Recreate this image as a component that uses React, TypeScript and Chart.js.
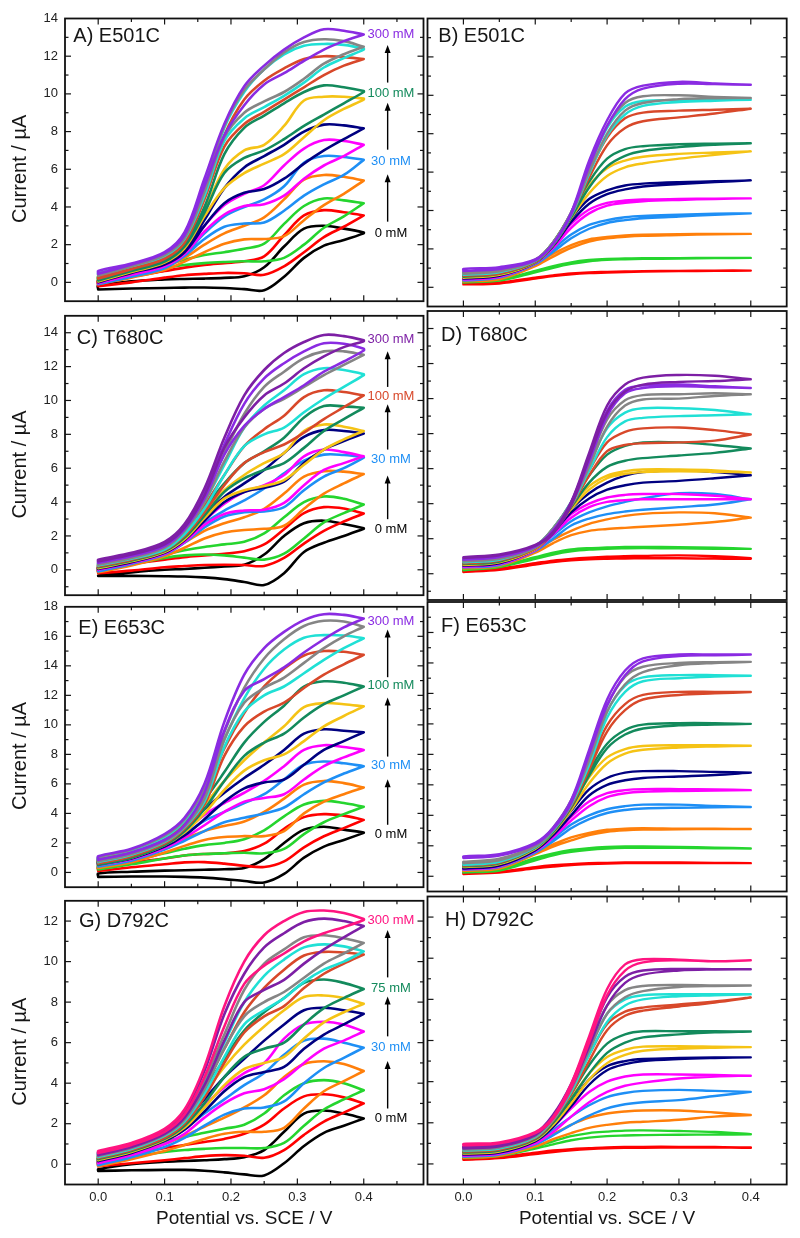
import React, { useEffect, useRef } from 'react';
import Chart from 'chart.js/auto';

// ---------------- data ----------------
// potentials (V) at which each branch is sampled
const XL = [0, 0.05, 0.1, 0.13, 0.16, 0.19, 0.22, 0.25, 0.28, 0.31, 0.34, 0.37, 0.4];
const XR = [0, 0.05, 0.1, 0.125, 0.15, 0.175, 0.2, 0.225, 0.25, 0.3, 0.35, 0.4];

const X_TICKS = [0, 0.1, 0.2, 0.3, 0.4];
const X_MINOR = [0.05, 0.15, 0.25, 0.35, 0.45];
const Y_TICKS_A = [0, 2, 4, 6, 8, 10, 12, 14];
const Y_TICKS_C = [0, 2, 4, 6, 8, 10, 12, 14];
const Y_TICKS_E = [0, 2, 4, 6, 8, 10, 12, 14, 16, 18];
const Y_TICKS_G = [0, 2, 4, 6, 8, 10, 12];

const PALETTE: Record<string, string> = {
  black: '#000000', red: '#FF0000', green: '#25D52E', orange: '#FF7F0A', blue: '#1E8FF5',
  magenta: '#FF00FF', navy: '#000080', yellow: '#F5C315', dkgreen: '#138A5C', redorange: '#D8482A',
  cyan: '#20E0D5', gray: '#858585', violet: '#8A2BE2', purple: '#7D1FA5', pink: '#FF1480',
};

// ---- Panel A (E501C, CV) ----
const seriesA = ['black', 'red', 'green', 'orange', 'blue', 'magenta', 'navy', 'yellow', 'dkgreen', 'redorange', 'cyan', 'gray', 'violet'];
const loA = [
  [-0.38, -0.33, -0.3, -0.28, -0.27, -0.3, -0.36, -0.42, 0.3, 1.3, 1.95, 2.25, 2.6],
  [-0.2, 0.0, 0.25, 0.38, 0.45, 0.5, 0.48, 0.4, 0.85, 1.6, 2.4, 2.95, 3.55],
  [0.1, 0.4, 0.75, 0.92, 1.02, 1.08, 1.12, 1.12, 1.3, 2.0, 2.9, 3.5, 4.2],
  [-0.1, 0.25, 0.65, 1.1, 1.6, 2.05, 2.28, 2.3, 2.45, 3.3, 4.1, 4.7, 5.4],
  [-0.1, 0.3, 0.75, 1.4, 2.3, 2.95, 3.12, 3.18, 3.8, 4.6, 5.2, 5.7, 6.5],
  [-0.05, 0.4, 0.85, 1.5, 2.7, 3.6, 4.05, 4.15, 4.6, 5.5, 6.2, 6.7, 7.3],
  [0.0, 0.5, 0.95, 1.6, 3.0, 4.2, 4.75, 4.95, 5.5, 6.3, 7.0, 7.6, 8.17],
  [0.05, 0.55, 1.05, 1.8, 3.5, 5.0, 5.8, 6.3, 6.8, 7.7, 8.6, 9.2, 9.7],
  [0.1, 0.6, 1.1, 1.9, 3.7, 5.8, 6.6, 7.0, 7.6, 8.3, 8.9, 9.5, 10.1],
  [0.2, 0.7, 1.25, 2.1, 4.4, 7.2, 8.4, 9.05, 9.7, 10.35, 11.0, 11.5, 11.85],
  [0.4, 0.85, 1.4, 2.3, 4.6, 7.5, 8.7, 9.3, 9.9, 10.6, 11.4, 11.9, 12.35],
  [0.35, 0.85, 1.45, 2.35, 4.8, 7.7, 9.0, 9.6, 10.1, 10.8, 11.6, 12.1, 12.5],
  [0.45, 0.95, 1.55, 2.5, 5.1, 7.8, 9.4, 10.5, 11.1, 11.75, 12.35, 12.8, 13.15],
];
const hiA = [
  [-0.17, 0.05, 0.15, 0.18, 0.2, 0.24, 0.32, 0.8, 1.9, 2.85, 3.0, 2.85, 2.65],
  [0.1, 0.3, 0.6, 0.78, 0.92, 1.02, 1.12, 1.38, 2.5, 3.55, 3.83, 3.72, 3.55],
  [0.3, 0.6, 0.95, 1.2, 1.45, 1.6, 1.78, 2.05, 3.1, 4.05, 4.45, 4.35, 4.2],
  [0.0, 0.35, 0.8, 1.3, 2.0, 2.6, 3.0, 3.45, 4.4, 5.45, 5.7, 5.6, 5.4],
  [-0.05, 0.35, 0.85, 1.5, 2.6, 3.5, 4.0, 4.4, 5.1, 6.35, 6.7, 6.65, 6.5],
  [0.0, 0.45, 0.95, 1.6, 3.0, 4.1, 4.7, 5.15, 6.2, 7.1, 7.55, 7.5, 7.3],
  [0.1, 0.55, 1.05, 1.7, 3.3, 5.0, 6.1, 6.7, 7.3, 8.0, 8.37, 8.33, 8.17],
  [0.15, 0.6, 1.15, 1.9, 3.8, 6.0, 7.0, 7.3, 8.3, 9.65, 9.85, 9.85, 9.75],
  [0.2, 0.65, 1.2, 2.0, 4.0, 6.8, 8.2, 8.85, 9.5, 10.1, 10.45, 10.35, 10.15],
  [0.3, 0.75, 1.3, 2.2, 4.6, 7.8, 9.7, 10.7, 11.35, 11.85, 12.0, 11.95, 11.85],
  [0.5, 0.9, 1.5, 2.4, 4.9, 8.2, 10.1, 11.3, 12.1, 12.55, 12.65, 12.6, 12.4],
  [0.45, 0.9, 1.5, 2.45, 5.1, 8.3, 10.2, 11.3, 12.2, 12.75, 12.9, 12.8, 12.5],
  [0.6, 1.0, 1.6, 2.65, 5.5, 8.4, 10.4, 11.5, 12.35, 13.0, 13.43, 13.35, 13.15],
];

// ---- Panel B (E501C, steady state) ----
const seriesB = ['red', 'green', 'orange', 'blue', 'magenta', 'navy', 'yellow', 'dkgreen', 'redorange', 'cyan', 'gray', 'violet'];
const loB = [
  [0.15, 0.2, 0.45, 0.58, 0.68, 0.74, 0.77, 0.8, 0.82, 0.84, 0.86, 0.87],
  [0.25, 0.35, 0.78, 1.02, 1.22, 1.36, 1.43, 1.46, 1.48, 1.5, 1.52, 1.53],
  [0.3, 0.42, 1.1, 1.6, 2.05, 2.38, 2.55, 2.63, 2.68, 2.72, 2.76, 2.78],
  [0.35, 0.5, 1.2, 1.85, 2.55, 3.05, 3.35, 3.5, 3.6, 3.68, 3.78, 3.85],
  [0.4, 0.55, 1.25, 2.05, 3.1, 3.85, 4.25, 4.4, 4.48, 4.55, 4.6, 4.63],
  [0.45, 0.6, 1.28, 2.15, 3.4, 4.35, 4.85, 5.1, 5.25, 5.38, 5.48, 5.57],
  [0.5, 0.65, 1.3, 2.2, 3.6, 4.9, 5.8, 6.25, 6.45, 6.7, 6.9, 7.08],
  [0.55, 0.7, 1.32, 2.2, 3.65, 5.2, 6.3, 6.85, 7.1, 7.3, 7.42, 7.5],
  [0.6, 0.72, 1.35, 2.25, 3.75, 5.7, 7.4, 8.3, 8.65, 8.85, 9.05, 9.3],
  [0.65, 0.78, 1.37, 2.25, 3.75, 5.9, 7.9, 9.0, 9.45, 9.65, 9.72, 9.77],
  [0.7, 0.83, 1.4, 2.28, 3.8, 6.0, 8.0, 9.2, 9.6, 9.8, 9.85, 9.86],
  [0.85, 0.95, 1.4, 2.25, 3.8, 6.3, 8.4, 9.8, 10.35, 10.6, 10.58, 10.55],
];
const hiB = [
  [0.2, 0.25, 0.5, 0.62, 0.72, 0.78, 0.8, 0.82, 0.84, 0.85, 0.87, 0.87],
  [0.3, 0.4, 0.85, 1.1, 1.3, 1.42, 1.48, 1.5, 1.52, 1.52, 1.53, 1.53],
  [0.35, 0.48, 1.2, 1.75, 2.2, 2.5, 2.62, 2.7, 2.74, 2.77, 2.78, 2.78],
  [0.4, 0.55, 1.3, 2.0, 2.75, 3.25, 3.5, 3.65, 3.72, 3.78, 3.83, 3.85],
  [0.45, 0.6, 1.35, 2.2, 3.3, 4.05, 4.4, 4.52, 4.57, 4.6, 4.62, 4.63],
  [0.5, 0.65, 1.35, 2.3, 3.6, 4.6, 5.05, 5.3, 5.4, 5.48, 5.52, 5.57],
  [0.6, 0.72, 1.4, 2.35, 3.8, 5.3, 6.2, 6.6, 6.8, 6.95, 7.02, 7.08],
  [0.65, 0.78, 1.4, 2.35, 3.85, 5.5, 6.7, 7.2, 7.35, 7.45, 7.48, 7.5],
  [0.7, 0.8, 1.42, 2.35, 3.9, 6.0, 7.8, 8.8, 9.1, 9.2, 9.25, 9.3],
  [0.75, 0.85, 1.42, 2.35, 3.9, 6.2, 8.3, 9.4, 9.7, 9.75, 9.76, 9.77],
  [0.8, 0.9, 1.45, 2.35, 3.9, 6.3, 8.4, 9.6, 9.95, 10.0, 9.92, 9.86],
  [0.96, 1.05, 1.45, 2.3, 3.9, 6.6, 8.7, 10.1, 10.5, 10.7, 10.62, 10.55],
];

// ---- Panel C (T680C, CV) ----
const seriesC = ['black', 'red', 'green', 'orange', 'blue', 'magenta', 'navy', 'yellow', 'dkgreen', 'redorange', 'cyan', 'gray', 'violet', 'purple'];
const loC = [
  [-0.36, -0.36, -0.38, -0.4, -0.45, -0.55, -0.72, -0.9, -0.2, 1.05, 1.6, 2.0, 2.42],
  [-0.2, -0.05, 0.15, 0.22, 0.28, 0.3, 0.28, 0.23, 0.7, 1.55, 2.3, 2.85, 3.32],
  [-0.1, 0.3, 0.7, 0.85, 0.9, 0.85, 0.72, 0.6, 0.95, 1.85, 2.8, 3.35, 3.85],
  [-0.15, 0.25, 0.8, 1.3, 1.85, 2.2, 2.35, 2.42, 2.6, 3.6, 4.5, 5.1, 5.65],
  [-0.1, 0.35, 0.9, 1.6, 2.5, 3.15, 3.4, 3.45, 3.7, 4.7, 5.5, 6.0, 6.62],
  [0.0, 0.4, 0.95, 1.65, 2.65, 3.3, 3.5, 3.55, 3.95, 5.0, 5.9, 6.3, 6.7],
  [0.05, 0.45, 1.0, 1.75, 2.9, 4.0, 4.6, 4.85, 5.2, 6.3, 7.1, 7.6, 8.05],
  [0.1, 0.5, 1.05, 1.8, 3.05, 4.2, 4.7, 4.95, 5.3, 6.2, 7.1, 7.7, 8.2],
  [0.15, 0.55, 1.1, 1.9, 3.2, 4.6, 5.4, 5.9, 6.3, 7.2, 8.2, 8.9, 9.57],
  [0.2, 0.6, 1.15, 2.0, 3.4, 5.0, 6.3, 6.95, 7.4, 8.1, 8.9, 9.6, 10.3],
  [0.25, 0.65, 1.2, 2.1, 3.6, 5.6, 7.3, 8.0, 8.4, 9.3, 10.1, 10.8, 11.5],
  [0.3, 0.7, 1.3, 2.3, 4.0, 6.4, 8.4, 9.5, 10.1, 10.8, 11.5, 12.1, 12.7],
  [0.4, 0.8, 1.4, 2.4, 4.2, 6.8, 8.5, 9.5, 10.2, 10.9, 11.7, 12.3, 12.95],
  [0.5, 0.9, 1.5, 2.5, 4.4, 7.2, 9.0, 10.3, 11.0, 11.9, 12.6, 13.15, 13.5],
];
const hiC = [
  [-0.34, -0.15, 0.0, 0.05, 0.12, 0.2, 0.3, 0.9, 2.0, 2.75, 2.9, 2.7, 2.45],
  [0.13, 0.35, 0.6, 0.75, 0.85, 0.95, 1.1, 1.5, 2.4, 3.35, 3.7, 3.62, 3.32],
  [0.1, 0.45, 0.9, 1.15, 1.35, 1.5, 1.65, 2.15, 3.1, 4.0, 4.33, 4.2, 3.85],
  [0.05, 0.45, 1.0, 1.6, 2.3, 2.75, 3.1, 3.6, 4.5, 5.5, 5.82, 5.8, 5.65],
  [0.05, 0.45, 1.05, 1.75, 2.75, 3.5, 4.1, 4.8, 5.7, 6.45, 6.8, 6.78, 6.65],
  [0.1, 0.5, 1.1, 1.8, 2.9, 3.9, 4.6, 5.0, 5.6, 6.7, 7.1, 6.95, 6.7],
  [0.15, 0.55, 1.15, 1.9, 3.2, 4.3, 5.1, 5.9, 6.9, 7.85, 8.25, 8.2, 8.05],
  [0.2, 0.6, 1.2, 2.0, 3.4, 4.7, 5.6, 6.3, 6.9, 8.2, 8.58, 8.45, 8.2],
  [0.25, 0.65, 1.25, 2.1, 3.6, 5.1, 6.3, 7.0, 7.8, 9.0, 9.67, 9.65, 9.57],
  [0.3, 0.7, 1.3, 2.2, 3.8, 5.6, 7.3, 8.3, 9.1, 10.2, 10.6, 10.5, 10.3],
  [0.35, 0.75, 1.35, 2.3, 4.0, 6.2, 8.4, 9.7, 10.6, 11.55, 11.9, 11.8, 11.55],
  [0.4, 0.8, 1.45, 2.45, 4.3, 6.9, 9.2, 10.8, 11.7, 12.5, 12.9, 12.9, 12.7],
  [0.5, 0.9, 1.55, 2.6, 4.6, 7.4, 9.8, 11.3, 12.2, 12.9, 13.38, 13.35, 13.05],
  [0.6, 1.0, 1.65, 2.7, 4.8, 7.8, 10.3, 11.8, 12.8, 13.45, 13.87, 13.8, 13.55],
];

// ---- Panel D (T680C, steady state) ----
const seriesD = ['red', 'green', 'orange', 'blue', 'magenta', 'navy', 'yellow', 'dkgreen', 'redorange', 'cyan', 'gray', 'violet', 'purple'];
const loD = [
  [0.1, 0.22, 0.52, 0.66, 0.76, 0.82, 0.85, 0.87, 0.88, 0.88, 0.86, 0.85],
  [0.2, 0.38, 0.85, 1.1, 1.28, 1.38, 1.43, 1.45, 1.46, 1.45, 1.43, 1.42],
  [0.3, 0.45, 1.2, 1.75, 2.2, 2.45, 2.55, 2.62, 2.68, 2.8, 2.95, 3.2],
  [0.35, 0.5, 1.3, 2.0, 2.75, 3.15, 3.4, 3.55, 3.65, 3.8, 3.95, 4.25],
  [0.4, 0.55, 1.35, 2.25, 3.2, 3.8, 4.1, 4.2, 4.25, 4.25, 4.25, 4.25],
  [0.45, 0.6, 1.4, 2.35, 3.5, 4.3, 4.8, 5.05, 5.2, 5.3, 5.45, 5.62],
  [0.5, 0.65, 1.4, 2.4, 3.7, 4.8, 5.45, 5.7, 5.8, 5.85, 5.82, 5.78],
  [0.55, 0.7, 1.45, 2.45, 3.8, 5.2, 6.1, 6.45, 6.6, 6.75, 6.9, 7.15],
  [0.6, 0.75, 1.45, 2.45, 3.85, 5.6, 7.0, 7.35, 7.45, 7.5, 7.6, 7.95],
  [0.65, 0.8, 1.5, 2.5, 3.9, 5.9, 7.8, 8.7, 8.9, 9.0, 9.05, 9.1],
  [0.7, 0.85, 1.5, 2.5, 3.95, 6.1, 8.4, 9.6, 9.95, 10.0, 10.15, 10.25],
  [0.8, 0.95, 1.55, 2.4, 3.95, 6.4, 9.0, 10.3, 10.6, 10.7, 10.65, 10.6],
  [0.9, 1.05, 1.6, 2.3, 3.9, 6.6, 9.2, 10.4, 10.8, 10.95, 11.0, 11.1],
];
const hiD = [
  [0.2, 0.3, 0.6, 0.75, 0.85, 0.92, 0.97, 1.0, 1.02, 1.05, 1.0, 0.88],
  [0.3, 0.45, 0.95, 1.2, 1.38, 1.46, 1.5, 1.53, 1.53, 1.52, 1.48, 1.42],
  [0.4, 0.55, 1.35, 1.95, 2.45, 2.85, 3.1, 3.3, 3.42, 3.5, 3.45, 3.2],
  [0.45, 0.6, 1.4, 2.2, 3.0, 3.5, 3.85, 4.1, 4.3, 4.6, 4.55, 4.25],
  [0.5, 0.65, 1.45, 2.4, 3.4, 4.0, 4.35, 4.5, 4.55, 4.55, 4.45, 4.25],
  [0.55, 0.7, 1.5, 2.5, 3.7, 4.6, 5.2, 5.6, 5.8, 5.9, 5.8, 5.62],
  [0.6, 0.75, 1.5, 2.55, 3.9, 5.0, 5.6, 5.85, 5.95, 5.95, 5.9, 5.78],
  [0.65, 0.8, 1.55, 2.6, 4.0, 5.6, 6.8, 7.3, 7.5, 7.5, 7.35, 7.15],
  [0.7, 0.85, 1.55, 2.6, 4.05, 5.9, 7.5, 8.1, 8.3, 8.35, 8.2, 7.95],
  [0.75, 0.9, 1.6, 2.6, 4.1, 6.2, 8.3, 9.2, 9.45, 9.45, 9.35, 9.1],
  [0.8, 0.95, 1.6, 2.6, 4.1, 6.4, 8.8, 9.9, 10.2, 10.25, 10.3, 10.25],
  [0.85, 1.0, 1.6, 2.5, 4.1, 6.7, 9.3, 10.5, 10.75, 10.8, 10.7, 10.6],
  [0.95, 1.1, 1.65, 2.4, 4.1, 6.9, 9.6, 10.8, 11.2, 11.35, 11.3, 11.1],
];

// ---- Panel E (E653C, CV) ----
const seriesE = ['black', 'red', 'green', 'orange', 'blue', 'magenta', 'navy', 'yellow', 'dkgreen', 'redorange', 'cyan', 'gray', 'violet'];
const loE = [
  [-0.3, -0.28, -0.28, -0.3, -0.35, -0.45, -0.58, -0.68, -0.1, 1.0, 1.75, 2.2, 2.68],
  [0.1, 0.35, 0.55, 0.68, 0.7, 0.6, 0.45, 0.37, 0.75, 1.7, 2.45, 3.0, 3.56],
  [0.2, 0.55, 0.95, 1.15, 1.25, 1.3, 1.33, 1.3, 1.6, 2.6, 3.4, 3.95, 4.45],
  [0.3, 0.7, 1.35, 1.8, 2.2, 2.4, 2.46, 2.46, 2.8, 4.0, 4.8, 5.3, 5.76],
  [0.4, 0.8, 1.55, 2.15, 2.8, 3.4, 3.7, 4.0, 4.4, 5.3, 6.1, 6.7, 7.2],
  [0.5, 0.9, 1.65, 2.35, 3.2, 4.1, 4.8, 5.05, 5.3, 6.3, 7.2, 7.8, 8.3],
  [0.55, 0.95, 1.75, 2.5, 3.6, 4.8, 5.7, 6.1, 6.3, 7.3, 8.3, 8.9, 9.5],
  [0.6, 1.0, 1.85, 2.7, 4.0, 5.6, 6.9, 7.6, 8.0, 8.9, 9.9, 10.6, 11.25],
  [0.5, 1.0, 1.85, 2.8, 4.3, 6.2, 7.9, 8.8, 9.4, 10.5, 11.4, 12.0, 12.6],
  [0.6, 1.1, 1.95, 2.95, 4.6, 7.9, 9.9, 10.9, 11.5, 12.5, 13.4, 14.1, 14.75],
  [0.7, 1.2, 2.05, 3.05, 4.8, 8.5, 10.9, 12.0, 12.6, 13.5, 14.4, 15.2, 15.87],
  [0.75, 1.25, 2.1, 3.1, 5.0, 9.0, 11.5, 12.5, 13.2, 14.2, 15.2, 16.0, 16.65],
  [0.85, 1.35, 2.2, 3.2, 5.4, 9.6, 12.3, 13.1, 13.9, 14.9, 15.8, 16.6, 17.2],
];
const hiE = [
  [-0.07, 0.05, 0.12, 0.15, 0.18, 0.22, 0.3, 0.9, 2.0, 2.9, 3.1, 2.9, 2.7],
  [0.35, 0.65, 0.95, 1.15, 1.25, 1.3, 1.45, 1.95, 2.95, 3.75, 3.95, 3.85, 3.56],
  [0.45, 0.8, 1.3, 1.6, 1.85, 2.0, 2.25, 2.85, 3.8, 4.6, 4.85, 4.7, 4.45],
  [0.6, 1.0, 1.75, 2.3, 2.8, 3.15, 3.45, 4.1, 5.0, 5.95, 6.2, 6.05, 5.76],
  [0.7, 1.1, 1.9, 2.6, 3.5, 4.1, 4.7, 5.3, 6.3, 7.3, 7.52, 7.4, 7.2],
  [0.8, 1.2, 2.0, 2.8, 3.9, 4.7, 5.4, 6.2, 7.2, 8.3, 8.62, 8.5, 8.3],
  [0.85, 1.3, 2.1, 3.0, 4.3, 5.4, 6.4, 7.3, 8.3, 9.4, 9.7, 9.6, 9.5],
  [0.9, 1.35, 2.2, 3.2, 4.6, 6.2, 7.6, 8.8, 9.9, 11.2, 11.47, 11.4, 11.25],
  [0.8, 1.3, 2.2, 3.3, 4.9, 6.8, 8.8, 10.2, 11.3, 12.6, 12.95, 12.85, 12.6],
  [0.9, 1.4, 2.3, 3.4, 5.3, 8.4, 10.8, 12.6, 13.8, 14.7, 15.0, 14.95, 14.75],
  [1.0, 1.5, 2.4, 3.5, 5.5, 9.0, 11.8, 13.8, 15.1, 15.9, 16.08, 16.05, 15.87],
  [1.0, 1.55, 2.5, 3.6, 5.7, 9.5, 12.5, 14.5, 15.8, 16.7, 17.05, 17.0, 16.65],
  [1.1, 1.6, 2.6, 3.7, 6.0, 10.2, 13.4, 15.2, 16.3, 17.1, 17.5, 17.45, 17.2],
];

// ---- Panel F (E653C, steady state) ----
const seriesF = ['red', 'green', 'orange', 'blue', 'magenta', 'navy', 'yellow', 'dkgreen', 'redorange', 'cyan', 'gray', 'violet'];
const loF = [
  [0.15, 0.25, 0.52, 0.64, 0.74, 0.8, 0.84, 0.86, 0.87, 0.87, 0.86, 0.86],
  [0.25, 0.38, 1.05, 1.38, 1.6, 1.74, 1.82, 1.86, 1.87, 1.86, 1.84, 1.82],
  [0.35, 0.5, 1.45, 1.95, 2.35, 2.7, 2.92, 3.02, 3.06, 3.08, 3.1, 3.1],
  [0.42, 0.6, 1.55, 2.3, 3.15, 3.75, 4.15, 4.35, 4.45, 4.5, 4.52, 4.55],
  [0.45, 0.65, 1.65, 2.55, 3.65, 4.6, 5.2, 5.45, 5.55, 5.6, 5.63, 5.65],
  [0.5, 0.7, 1.7, 2.7, 4.0, 5.3, 6.0, 6.3, 6.45, 6.55, 6.65, 6.8],
  [0.6, 0.8, 1.8, 2.85, 4.35, 6.1, 7.4, 8.05, 8.3, 8.45, 8.52, 8.57],
  [0.65, 0.85, 1.85, 2.9, 4.5, 6.6, 8.4, 9.3, 9.7, 9.9, 9.95, 10.0],
  [0.7, 0.9, 1.9, 3.0, 4.6, 7.0, 9.5, 10.9, 11.6, 11.9, 12.0, 12.09],
  [0.75, 0.95, 1.9, 3.0, 4.7, 7.3, 10.4, 12.1, 12.8, 13.0, 13.1, 13.16],
  [0.85, 1.05, 1.95, 3.05, 4.8, 7.6, 10.8, 12.6, 13.4, 13.85, 14.0, 14.07],
  [1.2, 1.35, 2.1, 3.1, 4.8, 8.0, 11.2, 13.2, 14.1, 14.45, 14.5, 14.55],
];
const hiF = [
  [0.2, 0.3, 0.6, 0.72, 0.8, 0.85, 0.88, 0.9, 0.9, 0.9, 0.88, 0.86],
  [0.3, 0.45, 1.2, 1.5, 1.72, 1.85, 1.92, 1.95, 1.95, 1.93, 1.88, 1.82],
  [0.45, 0.6, 1.6, 2.1, 2.55, 2.85, 3.05, 3.12, 3.15, 3.12, 3.12, 3.1],
  [0.5, 0.7, 1.7, 2.5, 3.4, 4.0, 4.4, 4.6, 4.7, 4.7, 4.62, 4.55],
  [0.55, 0.75, 1.8, 2.75, 3.9, 4.9, 5.45, 5.65, 5.72, 5.72, 5.7, 5.65],
  [0.6, 0.8, 1.85, 2.9, 4.3, 5.7, 6.45, 6.8, 6.9, 6.9, 6.85, 6.8],
  [0.7, 0.9, 1.9, 3.0, 4.6, 6.5, 7.8, 8.35, 8.55, 8.6, 8.6, 8.57],
  [0.75, 0.95, 1.95, 3.05, 4.7, 6.9, 8.7, 9.6, 9.95, 10.05, 10.05, 10.0],
  [0.8, 1.0, 2.0, 3.1, 4.8, 7.3, 9.9, 11.3, 11.9, 12.1, 12.1, 12.09],
  [0.85, 1.05, 2.0, 3.15, 4.9, 7.6, 10.8, 12.5, 13.05, 13.2, 13.2, 13.16],
  [0.95, 1.15, 2.05, 3.2, 5.0, 7.9, 11.2, 13.1, 13.75, 14.0, 14.05, 14.07],
  [1.3, 1.45, 2.2, 3.2, 5.0, 8.3, 11.6, 13.5, 14.3, 14.55, 14.55, 14.55],
];

// ---- Panel G (D792C, CV) ----
const seriesG = ['black', 'red', 'green', 'orange', 'blue', 'magenta', 'navy', 'yellow', 'dkgreen', 'redorange', 'cyan', 'gray', 'purple', 'pink'];
const loG = [
  [-0.33, -0.3, -0.28, -0.28, -0.32, -0.4, -0.5, -0.55, 0.05, 0.9, 1.55, 1.9, 2.26],
  [-0.1, 0.05, 0.2, 0.3, 0.4, 0.45, 0.42, 0.32, 0.7, 1.45, 2.1, 2.55, 3.0],
  [0.05, 0.35, 0.6, 0.7, 0.76, 0.8, 0.8, 0.8, 1.05, 1.9, 2.7, 3.2, 3.65],
  [-0.1, 0.25, 0.65, 0.95, 1.25, 1.5, 1.6, 1.6, 1.8, 2.75, 3.6, 4.1, 4.6],
  [-0.05, 0.35, 0.85, 1.3, 1.9, 2.45, 2.75, 2.8, 3.1, 4.0, 4.75, 5.25, 5.75],
  [0.05, 0.45, 1.0, 1.5, 2.3, 3.0, 3.5, 3.7, 4.2, 5.0, 5.7, 6.1, 6.55],
  [0.15, 0.55, 1.15, 1.7, 2.6, 3.6, 4.3, 4.55, 4.8, 5.7, 6.4, 6.9, 7.42],
  [0.2, 0.6, 1.2, 1.8, 2.8, 3.9, 4.7, 5.0, 5.3, 6.2, 7.0, 7.5, 7.92],
  [0.25, 0.65, 1.25, 1.9, 3.0, 4.3, 5.3, 5.7, 6.0, 6.9, 7.7, 8.2, 8.65],
  [0.3, 0.7, 1.3, 2.0, 3.3, 5.0, 6.5, 7.3, 7.8, 8.7, 9.4, 9.9, 10.35],
  [0.35, 0.75, 1.4, 2.1, 3.5, 5.3, 6.9, 7.6, 8.2, 9.0, 9.6, 10.0, 10.5],
  [0.4, 0.8, 1.45, 2.2, 3.7, 5.7, 7.3, 8.0, 8.5, 9.2, 9.9, 10.4, 10.92],
  [0.45, 0.85, 1.5, 2.3, 3.9, 6.1, 8.0, 8.6, 9.1, 9.9, 10.6, 11.2, 11.75],
  [0.55, 0.95, 1.6, 2.45, 4.3, 6.8, 8.9, 9.8, 10.4, 11.0, 11.4, 11.7, 12.05],
];
const hiG = [
  [-0.25, 0.0, 0.12, 0.16, 0.2, 0.25, 0.35, 0.7, 1.6, 2.5, 2.65, 2.5, 2.26],
  [0.15, 0.45, 0.8, 0.95, 1.1, 1.25, 1.5, 1.95, 2.75, 3.35, 3.45, 3.3, 3.0],
  [0.3, 0.65, 1.1, 1.35, 1.55, 1.75, 1.95, 2.5, 3.4, 4.0, 4.15, 4.0, 3.65],
  [0.0, 0.45, 1.0, 1.4, 1.85, 2.3, 2.8, 3.4, 4.3, 4.95, 5.08, 4.95, 4.6],
  [0.1, 0.55, 1.2, 1.75, 2.5, 3.2, 3.9, 4.5, 5.4, 6.1, 6.2, 6.0, 5.75],
  [0.2, 0.6, 1.3, 1.95, 2.9, 3.8, 4.5, 5.0, 6.2, 6.9, 7.03, 6.9, 6.55],
  [0.3, 0.7, 1.4, 2.1, 3.2, 4.3, 5.2, 6.1, 6.9, 7.6, 7.72, 7.6, 7.42],
  [0.35, 0.75, 1.45, 2.2, 3.5, 4.8, 5.9, 6.8, 7.6, 8.25, 8.33, 8.2, 7.92],
  [0.4, 0.8, 1.5, 2.3, 3.7, 5.2, 6.6, 7.5, 8.2, 8.95, 9.12, 8.95, 8.65],
  [0.45, 0.85, 1.55, 2.4, 3.9, 5.7, 7.5, 8.7, 9.6, 10.3, 10.48, 10.45, 10.35],
  [0.5, 0.9, 1.6, 2.45, 4.0, 6.0, 8.0, 9.3, 10.1, 10.7, 10.85, 10.75, 10.5],
  [0.55, 0.95, 1.65, 2.5, 4.2, 6.4, 8.6, 9.9, 10.6, 11.2, 11.3, 11.15, 10.92],
  [0.6, 1.0, 1.7, 2.6, 4.6, 7.4, 9.4, 10.7, 11.4, 11.95, 12.12, 12.0, 11.75],
  [0.65, 1.05, 1.75, 2.7, 4.8, 7.8, 10.0, 11.3, 12.0, 12.45, 12.52, 12.4, 12.1],
];

// ---- Panel H (D792C, steady state) ----
const seriesH = ['red', 'green', 'orange', 'blue', 'magenta', 'navy', 'yellow', 'dkgreen', 'redorange', 'cyan', 'gray', 'purple', 'pink'];
const loH = [
  [0.2, 0.28, 0.48, 0.58, 0.66, 0.72, 0.76, 0.78, 0.79, 0.8, 0.8, 0.78],
  [0.28, 0.38, 0.75, 0.95, 1.15, 1.28, 1.35, 1.38, 1.4, 1.42, 1.43, 1.44],
  [0.3, 0.4, 0.85, 1.2, 1.5, 1.75, 1.9, 2.0, 2.05, 2.15, 2.3, 2.38],
  [0.35, 0.45, 0.95, 1.4, 1.9, 2.35, 2.7, 2.9, 3.0, 3.1, 3.3, 3.5],
  [0.4, 0.5, 1.0, 1.55, 2.3, 3.0, 3.5, 3.8, 3.95, 4.15, 4.25, 4.29],
  [0.45, 0.55, 1.1, 1.8, 2.8, 3.85, 4.55, 4.85, 5.0, 5.1, 5.15, 5.18],
  [0.5, 0.6, 1.15, 1.9, 2.95, 4.1, 4.9, 5.3, 5.5, 5.6, 5.65, 5.68],
  [0.55, 0.65, 1.2, 2.0, 3.15, 4.4, 5.4, 5.9, 6.15, 6.3, 6.4, 6.44],
  [0.6, 0.7, 1.25, 2.1, 3.4, 5.0, 6.5, 7.2, 7.45, 7.65, 7.85, 8.09],
  [0.65, 0.75, 1.3, 2.15, 3.5, 5.3, 6.9, 7.7, 8.0, 8.15, 8.2, 8.25],
  [0.7, 0.8, 1.35, 2.2, 3.6, 5.5, 7.3, 8.1, 8.4, 8.6, 8.65, 8.67],
  [0.75, 0.85, 1.4, 2.25, 3.7, 5.7, 7.7, 8.8, 9.2, 9.4, 9.45, 9.46],
  [0.9, 1.0, 1.5, 2.2, 3.7, 5.9, 8.2, 9.4, 9.8, 9.9, 9.85, 9.9],
];
const hiH = [
  [0.3, 0.35, 0.55, 0.65, 0.72, 0.76, 0.8, 0.82, 0.83, 0.83, 0.82, 0.8],
  [0.35, 0.45, 0.85, 1.1, 1.35, 1.5, 1.57, 1.62, 1.63, 1.6, 1.55, 1.45],
  [0.4, 0.5, 1.0, 1.45, 1.9, 2.25, 2.45, 2.55, 2.6, 2.6, 2.5, 2.38],
  [0.45, 0.55, 1.1, 1.65, 2.3, 2.85, 3.25, 3.45, 3.55, 3.6, 3.55, 3.5],
  [0.5, 0.6, 1.15, 1.8, 2.7, 3.5, 4.0, 4.25, 4.35, 4.35, 4.32, 4.29],
  [0.55, 0.65, 1.2, 1.95, 3.0, 4.1, 4.75, 5.0, 5.1, 5.15, 5.17, 5.18],
  [0.6, 0.7, 1.25, 2.05, 3.2, 4.4, 5.2, 5.55, 5.7, 5.72, 5.7, 5.68],
  [0.65, 0.75, 1.3, 2.15, 3.4, 4.8, 5.85, 6.3, 6.45, 6.45, 6.45, 6.44],
  [0.7, 0.8, 1.35, 2.25, 3.6, 5.3, 6.8, 7.4, 7.6, 7.75, 7.9, 8.09],
  [0.75, 0.85, 1.4, 2.3, 3.7, 5.6, 7.3, 8.0, 8.2, 8.25, 8.25, 8.25],
  [0.8, 0.9, 1.45, 2.35, 3.8, 5.8, 7.7, 8.45, 8.65, 8.7, 8.68, 8.67],
  [0.85, 0.95, 1.5, 2.4, 3.9, 6.0, 8.1, 9.1, 9.4, 9.48, 9.47, 9.46],
  [0.97, 1.05, 1.55, 2.3, 3.9, 6.2, 8.5, 9.7, 9.95, 9.93, 9.85, 9.9],
];

// concentration labels (text, current value, colour key) and arrows (from, to) on the CV panels
const notesA = [['300 mM', 13.13, 'violet'], ['100 mM', 10.03, 'dkgreen'], ['30 mM', 6.43, 'blue'], ['0 mM', 2.61, 'black']];
const arrowsA = [[3.22, 5.74], [7.04, 9.53], [10.6, 12.6]];
const notesC = [['300 mM', 13.58, 'purple'], ['100 mM', 10.24, 'redorange'], ['30 mM', 6.52, 'blue'], ['0 mM', 2.38, 'black']];
const arrowsC = [[2.99, 5.57], [7.1, 9.77], [10.8, 12.9]];
const notesE = [['300 mM', 17.03, 'violet'], ['100 mM', 12.64, 'dkgreen'], ['30 mM', 7.23, 'blue'], ['0 mM', 2.57, 'black']];
const arrowsE = [[3.23, 6.31], [7.85, 11.85], [13.23, 16.46]];
const notesG = [['300 mM', 12.02, 'pink'], ['75 mM', 8.68, 'dkgreen'], ['30 mM', 5.74, 'blue'], ['0 mM', 2.26, 'black']];
const arrowsG = [[2.75, 5.09], [6.31, 8.28], [9.22, 11.56]];

// ---------------- layout / style ----------------
const FONT = 'Arial, "Liberation Sans", Helvetica, sans-serif';
const COLS = [
  { cx: 0, cw: 430, padL: 0, padR: 6.5, yW: 65, xMax: 0.49 },
  { cx: 420, cw: 380, padL: 7.5, padR: 13.3, yW: 0, xMax: 0.45 },
];
const ROWS = [
  { cy: 0, ch: 316, padT: 18.5, padB: 9.5, xH: 0 },
  { cy: 301, ch: 309, padT: 10, padB: 10, xH: 0 },
  { cy: 592, ch: 310, padT: 10, padB: 10.5, xH: 0 },
  { cy: 886, ch: 352, padT: 10.5, padB: 0, xH: 53.5 },
];

type Panel = {
  id: string; title: string; col: number; row: number; xs: number[]; series: string[];
  lo: number[][]; hi: number[][]; yMin: number; yMax: number; yTicks: number[];
  tx: number; ty: number; notes?: any[]; arrows?: number[][];
};

const PANELS: Panel[] = [
  { id: 'A', title: 'A) E501C', col: 0, row: 0, xs: XL, series: seriesA, lo: loA, hi: hiA, yMin: -1, yMax: 14, yTicks: Y_TICKS_A, tx: 8.3, ty: 18.2, notes: notesA, arrows: arrowsA },
  { id: 'B', title: 'B) E501C', col: 1, row: 0, xs: XR, series: seriesB, lo: loB, hi: hiB, yMin: -1, yMax: 14, yTicks: Y_TICKS_A, tx: 10.8, ty: 18.2 },
  { id: 'C', title: 'C) T680C', col: 0, row: 1, xs: XL, series: seriesC, lo: loC, hi: hiC, yMin: -1.5, yMax: 15, yTicks: Y_TICKS_C, tx: 11.7, ty: 22.3, notes: notesC, arrows: arrowsC },
  { id: 'D', title: 'D) T680C', col: 1, row: 1, xs: XR, series: seriesD, lo: loD, hi: hiD, yMin: -1.5, yMax: 15, yTicks: Y_TICKS_C, tx: 13.5, ty: 24.7 },
  { id: 'E', title: 'E) E653C', col: 0, row: 2, xs: XL, series: seriesE, lo: loE, hi: hiE, yMin: -1, yMax: 18, yTicks: Y_TICKS_E, tx: 13.3, ty: 21.3, notes: notesE, arrows: arrowsE },
  { id: 'F', title: 'F) E653C', col: 1, row: 2, xs: XR, series: seriesF, lo: loF, hi: hiF, yMin: -1, yMax: 18, yTicks: Y_TICKS_E, tx: 13.5, ty: 24 },
  { id: 'G', title: 'G) D792C', col: 0, row: 3, xs: XL, series: seriesG, lo: loG, hi: hiG, yMin: -1, yMax: 13, yTicks: Y_TICKS_G, tx: 14, ty: 20.2, notes: notesG, arrows: arrowsG },
  { id: 'H', title: 'H) D792C', col: 1, row: 3, xs: XR, series: seriesH, lo: loH, hi: hiH, yMin: -1, yMax: 13, yTicks: Y_TICKS_G, tx: 17.5, ty: 23.5 },
];

function loopPoints(xs: number[], lo: number[], hi: number[]) {
  const pts: { x: number; y: number }[] = [];
  xs.forEach((x, i) => pts.push({ x, y: lo[i] }));
  for (let i = xs.length - 1; i >= 0; i--) pts.push({ x: xs[i], y: hi[i] });
  pts.push({ x: xs[0], y: lo[0] });
  return pts;
}

const decorPlugin = {
  id: 'decor',
  afterDraw(chart: any, _args: any, o: any) {
    const { ctx, chartArea: a } = chart;
    const xs = chart.scales.x;
    const ys = chart.scales.y;
    ctx.save();
    ctx.strokeStyle = '#151515';
    ctx.lineWidth = 1.2;
    const seg = (x1: number, y1: number, x2: number, y2: number) => {
      ctx.beginPath(); ctx.moveTo(x1, y1); ctx.lineTo(x2, y2); ctx.stroke();
    };
    const inX = (v: number) => v > xs.min + 1e-6 && v < xs.max - 1e-6;
    const inY = (v: number) => v > ys.min + 1e-6 && v < ys.max - 1e-6;
    X_TICKS.forEach((v) => { if (inX(v)) { const p = xs.getPixelForValue(v); seg(p, a.bottom, p, a.bottom - 6); seg(p, a.top, p, a.top + 6); } });
    X_MINOR.forEach((v) => { if (inX(v)) { const p = xs.getPixelForValue(v); seg(p, a.bottom, p, a.bottom - 3.5); seg(p, a.top, p, a.top + 3.5); } });
    const yt: number[] = o.yTicks;
    yt.forEach((v) => { if (inY(v)) { const p = ys.getPixelForValue(v); seg(a.left, p, a.left + 6, p); seg(a.right, p, a.right - 6, p); } });
    [yt[0] - 1, ...yt.map((v) => v + 1)].forEach((v) => { if (inY(v)) { const p = ys.getPixelForValue(v); seg(a.left, p, a.left + 3.5, p); seg(a.right, p, a.right - 3.5, p); } });
    ctx.lineWidth = 1.8;
    ctx.strokeStyle = '#111';
    ctx.strokeRect(a.left, a.top, a.right - a.left, a.bottom - a.top);

    ctx.fillStyle = '#161616';
    ctx.font = `20px ${FONT}`;
    ctx.textAlign = 'left';
    ctx.textBaseline = 'middle';
    ctx.fillText(o.title, a.left + o.tx, a.top + o.ty);

    if (o.yTitle) {
      ctx.save();
      ctx.translate(20, (a.top + a.bottom) / 2 + 9);
      ctx.rotate(-Math.PI / 2);
      ctx.textAlign = 'center';
      ctx.fillText('Current / \u00B5A', 0, 0);
      ctx.restore();
    }
    if (o.xTitle) {
      ctx.font = `19px ${FONT}`;
      ctx.textAlign = 'center';
      ctx.fillText('Potential vs. SCE / V', (a.left + a.right) / 2, a.bottom + 34);
    }
    if (o.notes) {
      ctx.font = `13px ${FONT}`;
      ctx.textAlign = 'center';
      o.notes.forEach((n: any) => {
        ctx.fillStyle = PALETTE[n[2]];
        ctx.fillText(n[0], xs.getPixelForValue(0.441), ys.getPixelForValue(n[1]));
      });
      ctx.strokeStyle = '#000';
      ctx.fillStyle = '#000';
      ctx.lineWidth = 1.4;
      const ax = xs.getPixelForValue(0.436);
      o.arrows.forEach((r: number[]) => {
        const y1 = ys.getPixelForValue(r[0]);
        const y2 = ys.getPixelForValue(r[1]);
        seg(ax, y1, ax, y2 + 6);
        ctx.beginPath(); ctx.moveTo(ax, y2); ctx.lineTo(ax - 3, y2 + 8); ctx.lineTo(ax + 3, y2 + 8); ctx.closePath(); ctx.fill();
      });
    }
    ctx.restore();
  },
};

function PanelChart({ p }: { p: Panel }) {
  const ref = useRef<HTMLCanvasElement>(null);
  const c = COLS[p.col];
  const r = ROWS[p.row];
  useEffect(() => {
    const bottom = p.row === 3;
    const left = p.col === 0;
    const datasets = p.series.map((key, i) => ({
      label: key,
      data: loopPoints(p.xs, p.lo[i], p.hi[i]),
      borderColor: PALETTE[key],
      backgroundColor: PALETTE[key],
      borderWidth: left ? 2.6 : 2.4,
      borderJoinStyle: 'round',
      borderCapStyle: 'round',
      pointRadius: 0,
      tension: 0.35,
      fill: false,
      order: p.series.length - i,
    }));
    const chart = new Chart(ref.current as HTMLCanvasElement, {
      type: 'line',
      data: { datasets } as any,
      plugins: [decorPlugin as any],
      options: {
        responsive: false,
        maintainAspectRatio: false,
        animation: false,
        events: [],
        layout: { padding: { left: c.padL, right: c.padR, top: r.padT, bottom: r.padB } },
        plugins: {
          legend: { display: false },
          tooltip: { enabled: false },
          decor: { title: p.title, tx: p.tx, ty: p.ty, yTicks: p.yTicks, yTitle: left, xTitle: bottom, notes: p.notes, arrows: p.arrows },
        } as any,
        scales: {
          x: {
            type: 'linear', min: -0.05, max: c.xMax, display: bottom,
            afterBuildTicks: (s: any) => { s.ticks = X_TICKS.map((v) => ({ value: v })); },
            afterFit: (s: any) => { s.height = r.xH; },
            ticks: { font: { family: FONT, size: 13 }, color: '#222', padding: 5, maxRotation: 0, autoSkip: false, callback: (v: any) => Number(v).toFixed(1) },
            grid: { display: false, drawTicks: false },
            border: { display: false },
          },
          y: {
            type: 'linear', min: p.yMin, max: p.yMax, display: left,
            afterBuildTicks: (s: any) => { s.ticks = p.yTicks.map((v) => ({ value: v })); },
            afterFit: (s: any) => { s.width = c.yW; },
            ticks: { font: { family: FONT, size: 13 }, color: '#222', padding: 7, autoSkip: false },
            grid: { display: false, drawTicks: false },
            border: { display: false },
          },
        } as any,
      },
    });
    return () => chart.destroy();
  }, [p]);
  return (
    <canvas
      ref={ref}
      width={c.cw}
      height={r.ch}
      style={{ position: 'absolute', left: c.cx, top: r.cy, width: c.cw, height: r.ch }}
    />
  );
}

export default function App() {
  return (
    <div style={{ position: 'absolute', left: 0, top: 0, width: 800, height: 1238, background: '#fff', overflow: 'hidden' }}>
      {PANELS.map((p) => <PanelChart key={p.id} p={p} />)}
    </div>
  );
}
